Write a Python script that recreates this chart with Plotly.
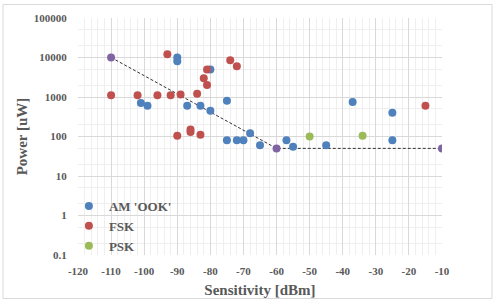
import plotly.graph_objects as go

# AM 'OOK'
am_x = [-101, -99, -90, -90, -87, -83, -80, -80, -75, -75, -72, -70, -68, -65, -57, -55, -45, -37, -25, -25]
am_y = [700, 600, 10000, 8000, 600, 600, 5000, 450, 800, 80, 80, 80, 120, 60, 80, 55, 60, 750, 400, 80]
# FSK
fsk_x = [-110, -102, -96, -93, -92, -89, -90, -86, -86, -83, -84, -82, -81, -81, -74, -72, -15]
fsk_y = [1100, 1100, 1100, 12000, 1100, 1150, 105, 150, 130, 110, 1200, 3000, 5000, 2000, 8500, 6000, 600]
# PSK
psk_x = [-50, -34]
psk_y = [100, 105]
# Trend (dashed envelope)
trend_x = [-110, -60, -10]
trend_y = [10000, 50, 50]

x_ticks = list(range(-120, 0, 10))
y_ticks = [0.1, 1, 10, 100, 1000, 10000, 100000]
y_tick_labels = ["0.1", "1", "10", "100", "1000", "10000", "100000"]

W, H = 495, 308
ml, mr, mt, mb = 78, 53, 15, 48
FONT = "Liberation Serif"
TXT = "#595959"

fig = go.Figure()
fig.add_trace(go.Scatter(x=trend_x, y=trend_y, mode="lines+markers",
                         line=dict(color="#303030", width=1, dash="3px,2px"),
                         marker=dict(color="#8064A2", size=8), showlegend=False))
fig.add_trace(go.Scatter(x=am_x, y=am_y, mode="markers", name="<b>AM 'OOK'</b>",
                         marker=dict(color="#4F81BD", size=8)))
fig.add_trace(go.Scatter(x=fsk_x, y=fsk_y, mode="markers", name="<b>FSK</b>",
                         marker=dict(color="#C0504D", size=8)))
fig.add_trace(go.Scatter(x=psk_x, y=psk_y, mode="markers", name="<b>PSK</b>",
                         marker=dict(color="#9BBB59", size=8)))

pw = W - ml - mr
ph = H - mt - mb
fig.add_shape(type="rect", xref="paper", yref="paper",
              x0=(3 - ml) / pw, x1=(492 - ml) / pw,
              y0=(H - mb - 305) / ph, y1=(H - mb - 1) / ph,
              line=dict(color="#d9d9d9", width=1), fillcolor="rgba(0,0,0,0)", layer="below")

fig.update_layout(
    width=W, height=H, margin=dict(l=ml, r=mr, t=mt, b=mb),
    paper_bgcolor="white", plot_bgcolor="white",
    font=dict(family=FONT, color=TXT),
    xaxis=dict(range=[-120, -10], tickvals=x_ticks, ticktext=[f"<b>{t}</b>" for t in x_ticks],
               ticks="outside", ticklen=6, tickcolor="rgba(0,0,0,0)",
               showgrid=True, gridcolor="#d9d9d9", gridwidth=1,
               minor=dict(dtick=2, showgrid=True, gridcolor="#efefef", gridwidth=1),
               zeroline=False, showline=False,
               tickfont=dict(family=FONT, size=11, color=TXT),
               title=dict(text="<b>Sensitivity [dBm]</b>", font=dict(family=FONT, size=15, color=TXT), standoff=8)),
    yaxis=dict(type="log", range=[-1, 5], tickvals=y_ticks, ticktext=[f"<b>{t}</b>" for t in y_tick_labels],
               ticks="outside", ticklen=8, tickcolor="rgba(0,0,0,0)",
               showgrid=True, gridcolor="#d9d9d9", gridwidth=1,
               minor=dict(showgrid=True, gridcolor="#efefef", gridwidth=1),
               zeroline=False, showline=False,
               tickfont=dict(family=FONT, size=11, color=TXT),
               title=dict(text="<b>Power [uW]</b>", font=dict(family=FONT, size=15, color=TXT), standoff=2)),
    legend=dict(x=-0.025, y=0.27, xanchor="left", yanchor="top", bgcolor="rgba(0,0,0,0)",
                font=dict(family=FONT, size=13, color=TXT), itemwidth=30, tracegroupgap=0),
)

fig.write_html("out.html")
